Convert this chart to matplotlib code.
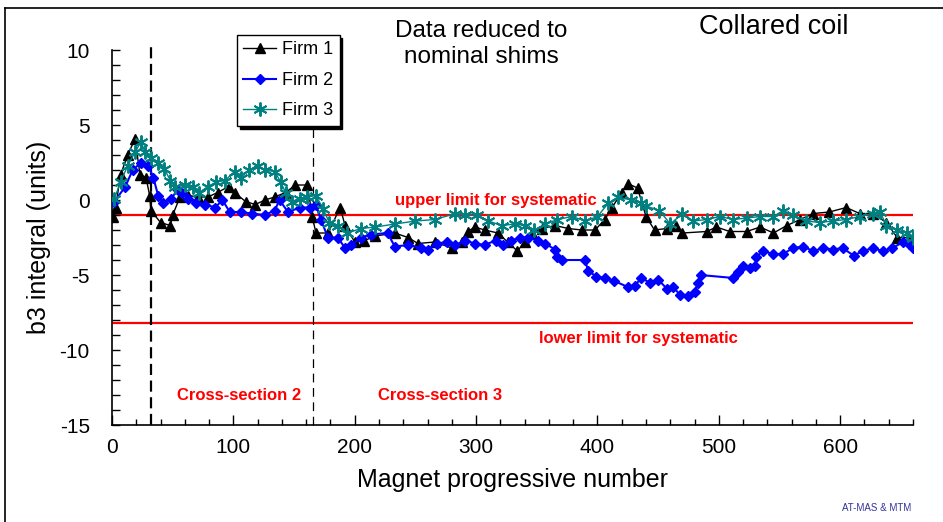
import matplotlib.pyplot as plt
from matplotlib.ticker import MultipleLocator
from matplotlib.lines import Line2D

plt.rcParams['font.family'] = ['Liberation Sans', 'DejaVu Sans']
plt.rcParams['axes.unicode_minus'] = False

# b3 integral values (magnet number, units)
firm1_x = [1, 3, 7, 13, 19, 23, 28, 31, 32, 40, 48, 50, 56, 63, 71, 79, 87, 96, 101, 110,
           118, 126, 134, 143, 151, 161, 165, 168, 178, 188, 192, 200, 208, 217, 233, 244,
           252, 266, 280, 288, 293, 299, 307, 318, 326, 334, 340, 346, 354, 365, 376, 387,
           398, 406, 412, 420, 425, 433, 440, 447, 457, 465, 470, 490, 498, 509, 523, 534,
           545, 556, 567, 578, 591, 605, 616, 627, 638, 647, 657, 660]
firm1_y = [-1.1, -0.5, 1.7, 3.0, 4.1, 1.7, 1.5, 0.3, -0.7, -1.5, -1.7, -1.0, 0.2, 0.3, 0.2,
           0.2, 0.5, 0.9, 0.5, -0.1, -0.3, 0.0, 0.2, 0.5, 1.0, 1.0, -1.1, -2.2, -2.2, -0.5,
           -1.7, -2.8, -2.7, -2.4, -2.2, -2.5, -2.9, -2.8, -3.2, -2.8, -2.1, -1.8, -2.0, -2.2,
           -2.8, -3.4, -2.8, -2.2, -1.9, -1.7, -1.9, -2.0, -2.0, -1.3, -0.5, 0.5, 1.1, 0.8,
           -1.1, -2.0, -1.9, -1.7, -2.2, -2.1, -1.8, -2.1, -2.1, -1.8, -2.2, -1.7, -1.3, -0.9,
           -0.8, -0.5, -0.9, -0.9, -1.5, -2.5, -2.5, -2.6]

firm2_x = [2, 11, 17, 24, 30, 34, 38, 42, 49, 54, 58, 63, 69, 77, 85, 91, 97, 106, 115, 126,
           134, 138, 145, 155, 163, 168, 172, 178, 186, 192, 197, 205, 213, 227, 233, 244,
           255, 260, 268, 276, 283, 291, 299, 307, 316, 322, 329, 336, 343, 351, 357, 365,
           367, 371, 390, 392, 399, 406, 414, 425, 431, 436, 443, 450, 457, 462, 468, 475,
           480, 483, 485, 512, 516, 520, 526, 530, 531, 536, 545, 553, 561, 569, 578, 586,
           594, 602, 611, 619, 627, 635, 643, 652, 657, 660]
firm2_y = [-0.1, 0.9, 2.0, 2.5, 2.3, 1.5, 0.3, -0.2, 0.1, 0.7, 0.5, 0.1, -0.2, -0.3, -0.5,
           0.0, -0.8, -0.8, -0.9, -1.0, -0.7, 0.0, -0.8, -0.5, -0.5, -0.3, -1.3, -2.5, -2.5,
           -3.2, -3.0, -2.5, -2.3, -2.2, -3.1, -3.0, -3.2, -3.3, -2.9, -2.8, -3.0, -2.7, -2.9,
           -3.0, -2.7, -3.0, -2.7, -2.5, -2.5, -2.7, -2.9, -3.3, -3.8, -4.0, -4.0, -4.7, -5.1,
           -5.2, -5.4, -5.8, -5.7, -5.2, -5.5, -5.3, -5.9, -5.8, -6.3, -6.4, -6.1, -5.5, -5.0,
           -5.2, -4.8, -4.4, -4.5, -4.4, -3.8, -3.4, -3.6, -3.6, -3.2, -3.1, -3.4, -3.2, -3.3,
           -3.2, -3.7, -3.4, -3.2, -3.4, -3.2, -2.8, -2.9, -3.2]

firm3_x = [2, 7, 13, 19, 24, 27, 32, 38, 43, 48, 52, 60, 67, 72, 79, 86, 93, 101, 106, 113,
           120, 126, 134, 139, 143, 148, 155, 161, 168, 174, 179, 186, 194, 205, 217, 233,
           250, 266, 283, 291, 301, 310, 321, 332, 340, 348, 357, 367, 379, 390, 400, 409,
           417, 428, 436, 440, 451, 460, 470, 479, 490, 501, 512, 523, 534, 545, 553, 561,
           572, 583, 594, 605, 616, 627, 633, 638, 647, 655, 660]
firm3_y = [0.1, 1.2, 2.3, 3.2, 3.9, 3.2, 2.8, 2.5, 2.1, 1.3, 0.9, 1.0, 0.9, 0.5, 0.9, 1.2,
           1.3, 1.9, 1.5, 2.0, 2.3, 2.0, 1.9, 1.2, 0.5, -0.1, 0.1, 0.2, 0.3, -0.6, -1.5, -1.7,
           -2.2, -1.9, -1.8, -1.6, -1.4, -1.3, -0.9, -1.0, -1.0, -1.4, -1.7, -1.6, -1.7, -2.0,
           -1.6, -1.3, -1.1, -1.4, -1.1, -0.2, 0.2, 0.0, -0.2, -0.4, -0.7, -1.6, -0.9, -1.4,
           -1.3, -1.1, -1.3, -1.2, -1.1, -1.1, -0.7, -1.0, -1.4, -1.5, -1.4, -1.3, -1.1, -0.9,
           -0.8, -1.7, -2.0, -2.2, -2.5]

upper_limit = -1.0
lower_limit = -8.2
section_bounds = [32, 166]

fig = plt.figure(figsize=(9.43, 5.22), dpi=100)
ax = fig.add_axes([0.1188, 0.1858, 0.8494, 0.7184])

ax.axhline(upper_limit, color='red', lw=1.6, zorder=1)
ax.axhline(lower_limit, color='red', lw=1.6, zorder=1)

# section boundaries
ax.plot([section_bounds[0]] * 2, [-15, 10.4], color='black', lw=1.6,
        linestyle=(0, (5, 2.5)), clip_on=False, zorder=1)
ax.plot([section_bounds[1]] * 2, [-15, 10.4], color='black', lw=0.9,
        linestyle=(0, (7, 4.5)), clip_on=False, zorder=1)

ax.plot(firm1_x, firm1_y, color='black', lw=1, marker='^', ms=7.5, label='Firm 1', zorder=3)
ax.plot(firm2_x, firm2_y, color='blue', lw=1.5, marker='D', ms=5.5, label='Firm 2', zorder=4)
ax.plot(firm3_x, firm3_y, color='teal', lw=1, marker=(6, 2, 0), ms=10, mew=1.4,
        label='Firm 3', zorder=5)

ax.set_xlim(0, 660)
ax.set_ylim(-15, 10)
ax.xaxis.set_major_locator(MultipleLocator(100))
ax.xaxis.set_minor_locator(MultipleLocator(20))
ax.yaxis.set_major_locator(MultipleLocator(5))
ax.yaxis.set_minor_locator(MultipleLocator(1))
ax.tick_params(which='both', direction='in', labelsize=15, width=1)
ax.tick_params(axis='x', which='major', length=7, pad=9)
ax.tick_params(axis='x', which='minor', length=4)
ax.tick_params(axis='y', which='major', length=6, pad=16)
ax.tick_params(axis='y', which='minor', length=6)
ax.spines['top'].set_visible(False)
ax.spines['right'].set_visible(False)
ax.spines['left'].set_linewidth(1.2)
ax.spines['bottom'].set_linewidth(1.2)

ax.set_xlabel('Magnet progressive number', fontsize=18, labelpad=8)
ax.set_ylabel('b3 integral (units)', fontsize=18, labelpad=6)

ax.text(304, 10.4, 'Data reduced to\nnominal shims', fontsize=17.5, ha='center',
        va='center', linespacing=1.25)
ax.text(545, 11.55, 'Collared coil', fontsize=19.5, ha='center', va='center')
ax.text(316, 0.0, 'upper limit for systematic', color='red', fontsize=12,
        fontweight='bold', ha='center', va='center')
ax.text(434, -9.25, 'lower limit for systematic', color='red', fontsize=12,
        fontweight='bold', ha='center', va='center')
ax.text(105, -13, 'Cross-section 2', color='red', fontsize=12, fontweight='bold',
        ha='center', va='center')
ax.text(270, -13, 'Cross-section 3', color='red', fontsize=12, fontweight='bold',
        ha='center', va='center')

leg = ax.legend(loc='upper left', bbox_to_anchor=(237 / 943, 1 - 35 / 522),
                bbox_transform=fig.transFigure, fontsize=13, frameon=True, fancybox=False,
                edgecolor='black', framealpha=1, borderpad=0.35, labelspacing=0.75,
                handlelength=1.8, handletextpad=0.35, borderaxespad=0,
                shadow={'facecolor': 'black', 'edgecolor': 'black', 'alpha': 1})
leg.get_frame().set_linewidth(1)

fig.text(877 / 943, 1 - 508 / 522, 'AT-MAS & MTM', color='#333399', fontsize=7,
         ha='center', va='center')

# outer frame of the slide
fig.add_artist(Line2D([4.5 / 943, 4.5 / 943], [0, 1 - 8 / 522], color='black', lw=1.2,
                      transform=fig.transFigure))
fig.add_artist(Line2D([4.5 / 943, 1], [1 - 8 / 522, 1 - 8 / 522], color='black', lw=1.2,
                      transform=fig.transFigure))

fig.savefig('out.png', dpi=100)
